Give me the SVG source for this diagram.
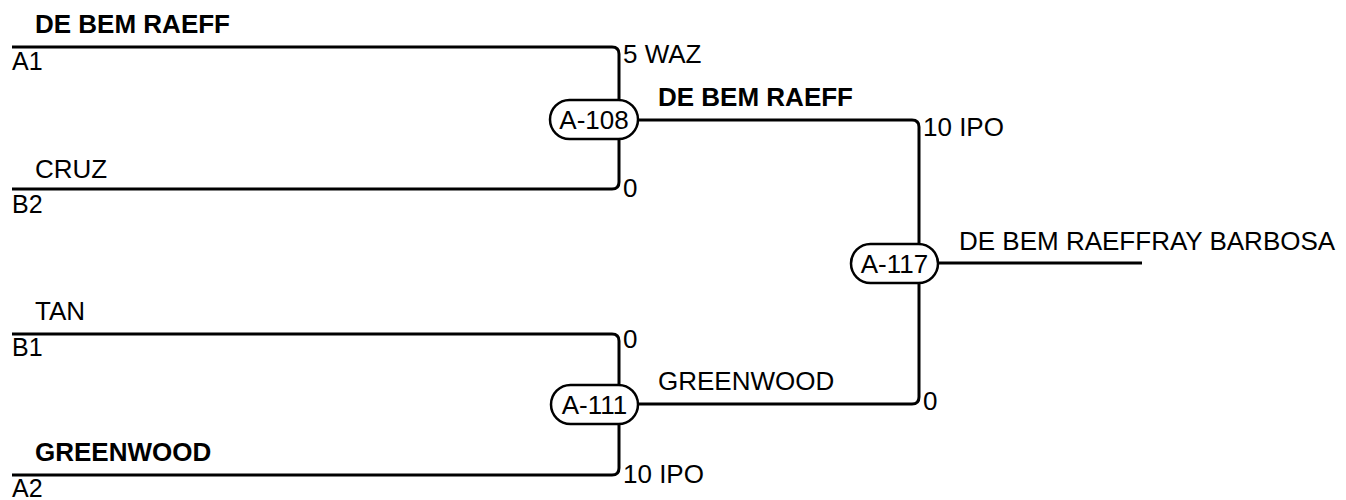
<svg xmlns="http://www.w3.org/2000/svg" width="1346" height="500" viewBox="0 0 1346 500">
<style>
  text { font-family: "Liberation Sans", Arial, sans-serif; font-size: 26px; fill: #000; }
  .b { font-weight: bold; }
  .seat { font-size: 25px; }
  .pill { fill: #fff; stroke: #000; stroke-width: 2.5; }
  .pt { text-anchor: middle; }
  .ln { fill: none; stroke: #000; stroke-width: 3; }
</style>
<rect width="1346" height="500" fill="#fff"/>
<g id="connectors">
  <path class="ln" d="M12,47 H612 Q619,47 619,54 V100"/>
  <path class="ln" d="M619,139 V182 Q619,189 612,189 H12"/>
  <path class="ln" d="M12,334 H612 Q619,334 619,341 V385"/>
  <path class="ln" d="M619,424 V468 Q619,475 612,475 H12"/>
  <path class="ln" d="M638,120 H912 Q919,120 919,127 V244"/>
  <path class="ln" d="M638,404 H912 Q919,404 919,397 V283"/>
  <path class="ln" d="M938,263 H1142"/>
</g>
<g id="entry-a1">
  <text class="b" x="35" y="33">DE BEM RAEFF</text>
  <text class="seat" x="12" y="70">A1</text>
  <text x="623" y="63">5 WAZ</text>
</g>
<g id="entry-b2">
  <text x="35" y="178">CRUZ</text>
  <text class="seat" x="12" y="213">B2</text>
  <text x="623" y="197">0</text>
</g>
<g id="entry-b1">
  <text x="35" y="320">TAN</text>
  <text class="seat" x="12" y="356">B1</text>
  <text x="623" y="348">0</text>
</g>
<g id="entry-a2">
  <text class="b" x="35" y="461">GREENWOOD</text>
  <text class="seat" x="12" y="497">A2</text>
  <text x="623" y="483">10 IPO</text>
</g>
<g id="match-a108">
  <rect class="pill" x="550" y="100" width="88" height="39" rx="19.5"/>
  <text class="pt" x="594" y="129">A-108</text>
</g>
<g id="match-a111">
  <rect class="pill" x="551" y="385" width="87" height="39" rx="19.5"/>
  <text class="pt" x="594.5" y="414">A-111</text>
</g>
<g id="match-a117">
  <rect class="pill" x="851" y="244" width="87" height="39" rx="19.5"/>
  <text class="pt" x="894.5" y="273">A-117</text>
</g>
<g id="result-a108">
  <text class="b" x="658" y="106">DE BEM RAEFF</text>
  <text x="923" y="136">10 IPO</text>
</g>
<g id="result-a111">
  <text x="658" y="390">GREENWOOD</text>
  <text x="923" y="410">0</text>
</g>
<g id="result-a117">
  <text x="959" y="250">DE BEM RAEFFRAY BARBOSA</text>
</g>
</svg>
